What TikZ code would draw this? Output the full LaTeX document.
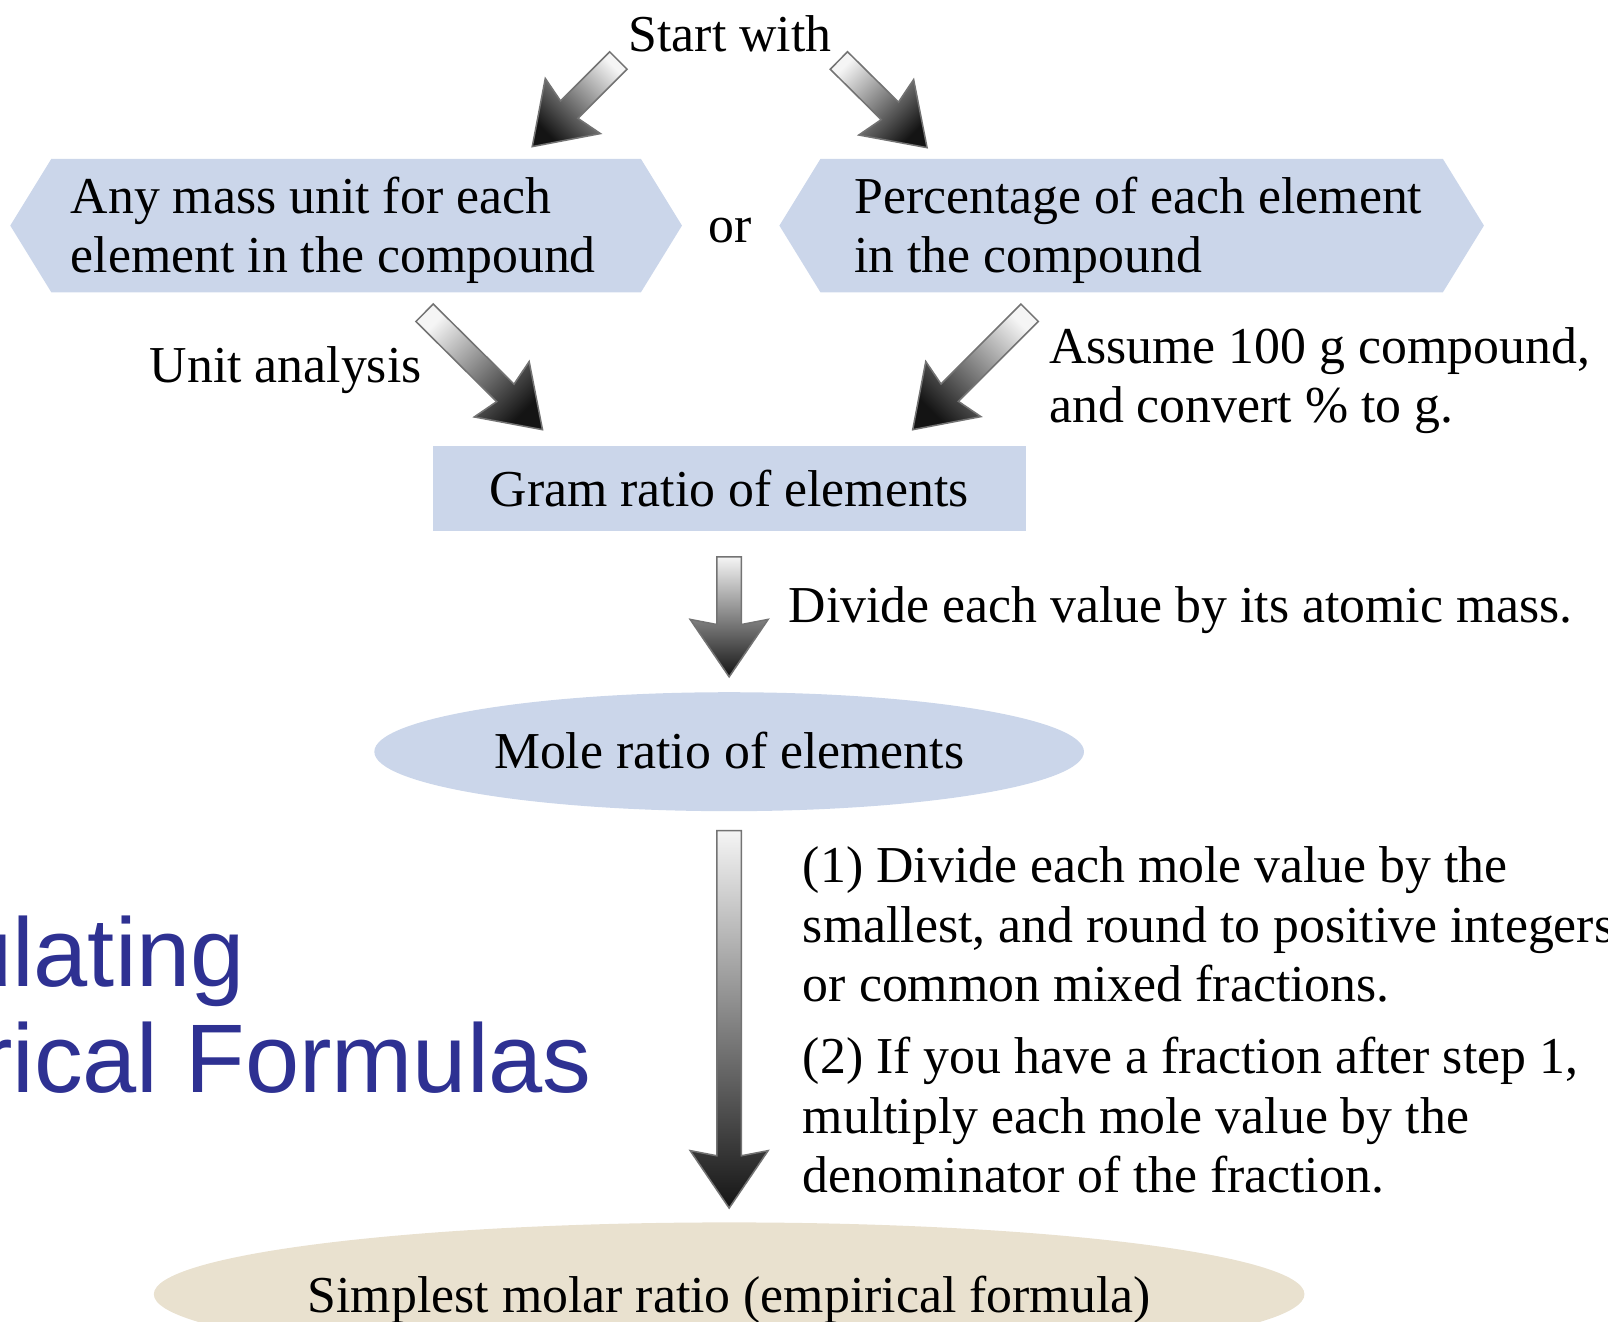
\documentclass[tikz,border=0pt]{standalone}
\usepackage{fontspec}
\setmainfont{Liberation Serif}
\newfontfamily\titlefont{Liberation Sans}
\usetikzlibrary{calc}
\definecolor{boxblue}{RGB}{203,214,234}
\definecolor{boxtan}{RGB}{233,225,207}
\definecolor{titleblue}{RGB}{46,49,146}
\tikzset{
  txt/.style={font=\fontsize{10.1pt}{11.6pt}\selectfont, inner sep=0pt, align=left},
  bluefill/.style={fill=boxblue},
  tanfill/.style={fill=boxtan},
  title/.style={font=\titlefont\fontsize{19pt}{21pt}\selectfont, text=titleblue, inner sep=0pt},
  barrow/.style={draw=black!55, line width=0.3pt, top color=black!4, bottom color=black!92},
}
% block arrow: #1 extra options, #2 tail, #3 tip
\newcommand\blockarrow[3][]{%
  \path (#2) coordinate (ba-a) (#3) coordinate (ba-b);
  \path ($(ba-b)!11.2pt!(ba-a)$) coordinate (ba-c)
        ($(ba-b)!10.2pt!(ba-a)$) coordinate (ba-j);
  \draw[barrow,#1] ($(ba-a)!2.4pt!90:(ba-b)$) -- ($(ba-j)!2.4pt!90:(ba-b)$)
    -- ($(ba-c)!7.6pt!90:(ba-b)$) -- (ba-b)
    -- ($(ba-c)!7.6pt!-90:(ba-b)$) -- ($(ba-j)!2.4pt!-90:(ba-b)$)
    -- ($(ba-a)!2.4pt!-90:(ba-b)$) -- cycle;
}

\begin{document}
\begin{tikzpicture}[x=0.2pt,y=-0.2pt]
\useasboundingbox (0,0) rectangle (1568,1289);
\clip (0,0) rectangle (1568,1289);
% slide title showing at the left
\node[title, anchor=base east] (ttl1) at (240,962) {ulating};
\node[title, anchor=base east] (ttl2) at (578,1065) {rical Formulas};
% boxes
\fill[bluefill] (10,220) -- (50,155) -- (625,155) -- (665,220) -- (625,285) -- (50,285) -- cycle;
\fill[bluefill] (760,220) -- (800,155) -- (1407,155) -- (1447,220) -- (1407,285) -- (800,285) -- cycle;
\fill[bluefill] (422,435) rectangle (1000,518);
\fill[bluefill] (711,733) ellipse [x radius=346, y radius=58];
\fill[tanfill] (711,1262) ellipse [x radius=561, y radius=70];
% texts (multi-line ones sit on their last baseline)
\node[txt, anchor=base] (start) at (712,50) {Start with};
\node[txt, anchor=base west] (anymass) at (68,266) {Any mass unit for each\\element in the compound};
\node[txt, anchor=base] (or) at (712,236) {or};
\node[txt, anchor=base west] (percent) at (832,266) {Percentage of each element\\in the compound};
\node[txt, anchor=base west] (unit) at (145,373) {Unit analysis};
\node[txt, anchor=base west] (assume) at (1022,412) {Assume 100 g compound,\\and convert \% to g.};
\node[txt, anchor=base] (gram) at (711,494) {Gram ratio of elements};
\node[txt, anchor=base west] (divide) at (768,607) {Divide each value by its atomic mass.};
\node[txt, anchor=base] (mole) at (711,749) {Mole ratio of elements};
\node[txt, anchor=base west] (step1) at (782,977) {(1) Divide each mole value by the\\smallest, and round to positive integers\\or common mixed fractions.};
\node[txt, anchor=base west] (step2) at (782,1163) {(2) If you have a fraction after step 1,\\multiply each mole value by the\\denominator of the fraction.};
\node[txt, anchor=base] (simplest) at (711,1280) {Simplest molar ratio (empirical formula)};
% arrow ends
\coordinate (a1) at (603,59);   \coordinate (b1) at (519,143);
\coordinate (a2) at (818,59);   \coordinate (b2) at (904,144);
\coordinate (a3) at (414,305);  \coordinate (b3) at (529,419);
\coordinate (a4) at (1004,305); \coordinate (b4) at (890,419);
\coordinate (a5) at (711,543);  \coordinate (b5) at (711,660);
\coordinate (a6) at (711,810);  \coordinate (b6) at (711,1178);
% arrows
\blockarrow[shading angle=-45]{a1}{b1}
\blockarrow[shading angle=45]{a2}{b2}
\blockarrow[shading angle=45]{a3}{b3}
\blockarrow[shading angle=-45]{a4}{b4}
\blockarrow{a5}{b5}
\blockarrow{a6}{b6}
\end{tikzpicture}
\end{document}
